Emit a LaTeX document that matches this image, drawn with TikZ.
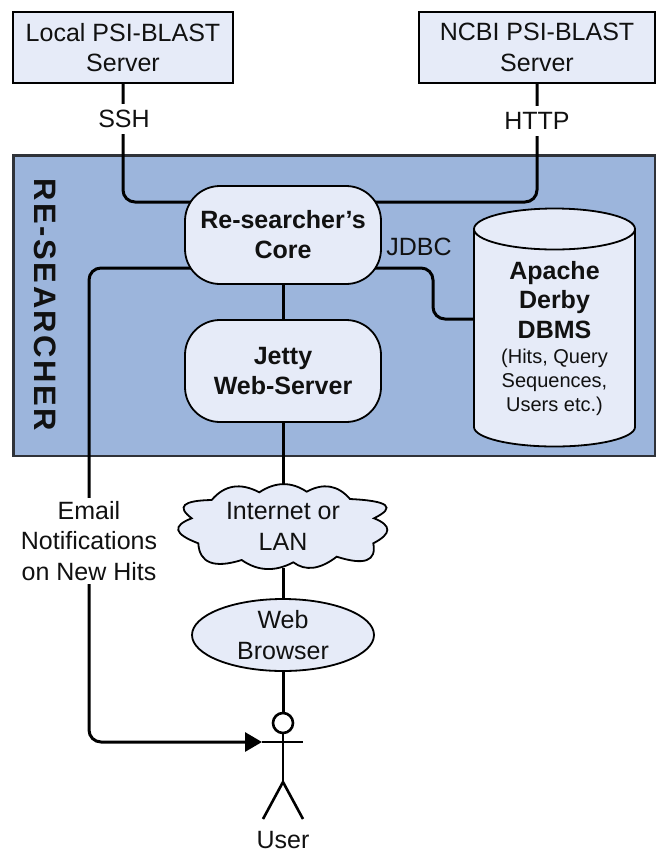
\documentclass[tikz,border=0pt]{standalone}
\usepackage{fontspec}
\setmainfont{Liberation Sans}
\usetikzlibrary{arrows.meta,shapes.geometric}
\definecolor{panelblue}{HTML}{9CB5DC}
\definecolor{boxfill}{HTML}{E6EBF8}
\definecolor{panelline}{HTML}{2F3238}
\definecolor{ink}{HTML}{111111}
\pgfdeclarelayer{panellayer}
\pgfdeclarelayer{wirelayer}
\pgfsetlayers{panellayer,wirelayer,main}
\tikzset{
  x=1pt,y=-1pt,
  main text/.style={text=ink,align=center,inner sep=0pt,font=\fontsize{25}{30.5}\selectfont},
  bold text/.style={main text,font=\fontsize{25}{30}\selectfont\bfseries},
  small text/.style={main text,font=\fontsize{20}{24}\selectfont},
  shapeline/.style={draw=black,line width=1.8pt,fill=boxfill},
  serverbox/.style={shapeline,rectangle,minimum height=71pt,main text},
  corebox/.style={shapeline,rectangle,rounded corners=35pt,minimum width=196pt,bold text},
  wire/.style={draw=black,line width=3pt,rounded corners=12pt},
  straightwire/.style={draw=black,line width=3pt},
  wirelabel/.style={main text,fill=white,inner xsep=3pt,inner ysep=6pt},
  usermark/.style={draw=black,line width=2.6pt},
}
\begin{document}
\begin{tikzpicture}
\useasboundingbox (0,0) rectangle (656,852);
\begin{pgfonlayer}{panellayer}
  \fill[white] (0,0) rectangle (656,852);
  \draw[draw=panelline,fill=panelblue,line width=2.2pt] (13.5,155.5) rectangle (655,456);
\end{pgfonlayer}

\node[serverbox,minimum width=220pt] (local) at (123,47.5) {Local PSI-BLAST\\Server};
\node[serverbox,minimum width=236pt] (ncbi) at (537,47.5) {NCBI PSI-BLAST\\Server};
\node[corebox,minimum height=98pt] (core) at (283,235) {Re-searcher’s\\Core};
\node[corebox,minimum height=102pt] (jetty) at (283,371) {Jetty\\Web-Server};

\node[wirelabel] (ssh) at (124,119) {SSH};
\node[wirelabel] (http) at (537,121) {HTTP};
\node[main text] (jdbc) at (419,247) {JDBC};
\node[wirelabel,inner xsep=0pt,inner ysep=3pt] (email) at (89,541) {Email\\Notifications\\on New Hits};

\node[rotate=-90,bold text,font=\fontsize{31}{36}\selectfont\bfseries\addfontfeatures{LetterSpace=8}] (brand) at (45.5,305) {RE-SEARCHER};

% database cylinder
\draw[shapeline] (474,229) -- (474,427)
  arc[start angle=180,end angle=0,x radius=80.5,y radius=19.5] -- (635,229)
  arc[start angle=0,end angle=-180,x radius=80.5,y radius=20.5]
  arc[start angle=180,end angle=0,x radius=80.5,y radius=20.5];
\node[minimum width=161pt,minimum height=238pt,inner sep=0pt] (db) at (554.5,327) {};
\node[bold text,font=\fontsize{25}{29.5}\selectfont\bfseries] (dbtitle) at (554.5,300) {Apache\\Derby\\DBMS};
\node[small text] (dbnote) at (554.5,382) {(Hits, Query\\Sequences,\\Users etc.)};

% cloud
\draw[shapeline] (259.3,492.3)
  .. controls (275.5,481.6) and (291.3,481.4) .. (306.7,491.7)
  .. controls (323.4,482.6) and (337.8,485) .. (350,499)
  .. controls (388.7,500.9) and (396.7,507) .. (374,518.3)
  .. controls (392,525.4) and (391.8,533.8) .. (373.3,543.3)
  .. controls (376.7,561.2) and (364.5,565.6) .. (336.7,556.7)
  .. controls (320,569.5) and (305.5,571.4) .. (293.3,562.3)
  .. controls (275,572) and (257.8,571.3) .. (241.7,560)
  .. controls (214,568.7) and (199.4,563) .. (198.3,543.3)
  .. controls (173.8,534) and (171.7,526) .. (191.7,518.3)
  .. controls (176.2,506.6) and (182.7,500.5) .. (211.7,500)
  .. controls (224.6,484.8) and (240.5,482.4) .. (259.3,492.3) -- cycle;
\node[minimum width=209pt,minimum height=83pt,inner sep=0pt,main text] (cloud) at (283,526.5) {Internet or\\LAN};

\node[shapeline,ellipse,minimum width=182pt,minimum height=72pt,inner sep=0pt,main text] (browser) at (283,635) {Web\\Browser};

% user figure
\node[usermark,fill=white,circle,minimum size=20pt,inner sep=0pt] (head) at (283,723) {};
\coordinate (armL) at (262,742);
\coordinate (armR) at (303,742);
\coordinate (hip) at (283,782);
\coordinate (footL) at (263,819);
\coordinate (footR) at (303,819);
\draw[usermark] (head.south) -- (hip);
\draw[usermark] (armL) -- (armR);
\draw[usermark] (footL) -- (hip) -- (footR);
\node[main text] (user) at (283,840.5) {User};

\begin{pgfonlayer}{wirelayer}
  \draw[wire] (local.south) |- ([yshift=33pt]core.center);
  \draw[wire] (ncbi.south) |- ([yshift=33pt]core.center);
  \draw[wire] ([yshift=-33pt]core.center) -| (433,293) |- ([yshift=8pt]db.west);
  \draw[wire,-{Triangle[length=17pt,width=19pt]}] ([yshift=-33pt]core.center) -| (email.center) |- (armL);
  \draw[straightwire] (core) -- (jetty);
  \draw[straightwire] (jetty) -- (cloud);
  \draw[straightwire] (cloud) -- (browser);
  \draw[straightwire] (browser) -- (head);
\end{pgfonlayer}
\end{tikzpicture}
\end{document}
